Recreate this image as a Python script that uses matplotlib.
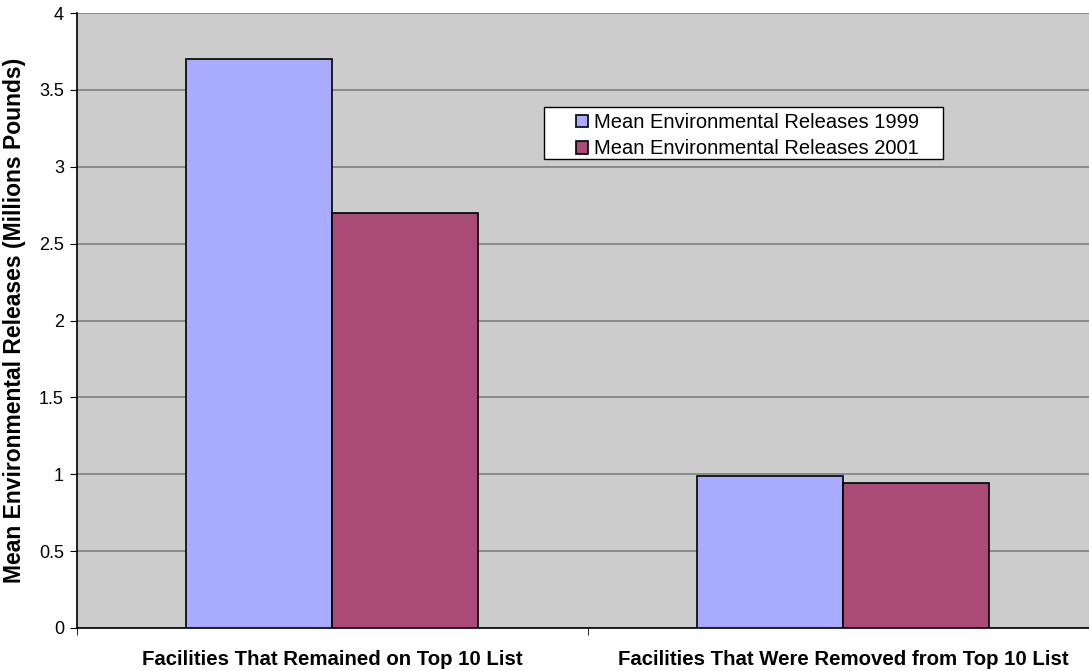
import numpy as np
import matplotlib
matplotlib.use('Agg')
import matplotlib.pyplot as plt
from matplotlib.patches import Rectangle

# Mean releases per facility group (millions of pounds)
categories = ["Facilities That Remained on Top 10 List",
              "Facilities That Were Removed from Top 10 List"]
releases_1999 = [3.70, 0.99]
releases_2001 = [2.70, 0.94]
series_labels = ["Mean Environmental Releases 1999",
                 "Mean Environmental Releases 2001"]
yticks = [0, 0.5, 1, 1.5, 2, 2.5, 3, 3.5, 4]

plt.rcParams['font.family'] = ['Liberation Sans', 'DejaVu Sans']

fig = plt.figure(figsize=(10.89, 6.71), dpi=100)
# plot area runs slightly past the right edge of the canvas
ax = fig.add_axes([76.5 / 1089, 43 / 671, 1022 / 1089, 615 / 671])
ax.set_facecolor('#cccccc')

x = np.arange(len(categories))
width = 0.2857
ax.bar(x - width / 2, releases_1999, width, color='#a9abff', edgecolor='black',
       linewidth=1.2, label=series_labels[0], zorder=3)
ax.bar(x + width / 2, releases_2001, width, color='#a94a77', edgecolor='black',
       linewidth=1.2, label=series_labels[1], zorder=3)

ax.set_xlim(-0.5, 1.5)
ax.set_ylim(0, 4)
ax.set_yticks(yticks)
ax.set_yticklabels([f"{v:g}" for v in yticks], fontsize=13)
ax.yaxis.grid(True, color='#7f7f7f', linewidth=1.2, zorder=0)

ax.set_xticks(x)
ax.set_xticklabels(categories, fontsize=14.7, fontweight='bold')
ax.set_xticks([-0.5, 0.5, 1.5], minor=True)
ax.tick_params(axis='x', which='major', length=0, pad=16)
ax.tick_params(axis='x', which='minor', length=5, direction='out', color='black')
ax.tick_params(axis='y', length=5, direction='out', color='black', pad=4)

for side in ('top', 'right'):
    ax.spines[side].set_visible(False)
for side in ('left', 'bottom'):
    ax.spines[side].set_color('black')
    ax.spines[side].set_linewidth(1.2)

ax.set_ylabel("Mean Environmental Releases (Millions Pounds)", fontsize=16.5,
              fontweight='bold')
ax.yaxis.set_label_coords(-50 / 1022, 0.5)

# white legend box, wider than the entries it holds
ax.add_patch(Rectangle((0.4574, 0.7626), 0.3904, 0.0846, transform=ax.transAxes,
                       facecolor='white', edgecolor='black', linewidth=1.0,
                       zorder=4))
leg = ax.legend(loc='center left', bbox_to_anchor=(0.4885, 0.8005),
                fontsize=14.5, frameon=False,
                handlelength=0.6, handleheight=0.6, handletextpad=0.32,
                borderpad=0, labelspacing=0.35, borderaxespad=0)
leg.set_zorder(5)

fig.savefig('out.png', dpi=100)
